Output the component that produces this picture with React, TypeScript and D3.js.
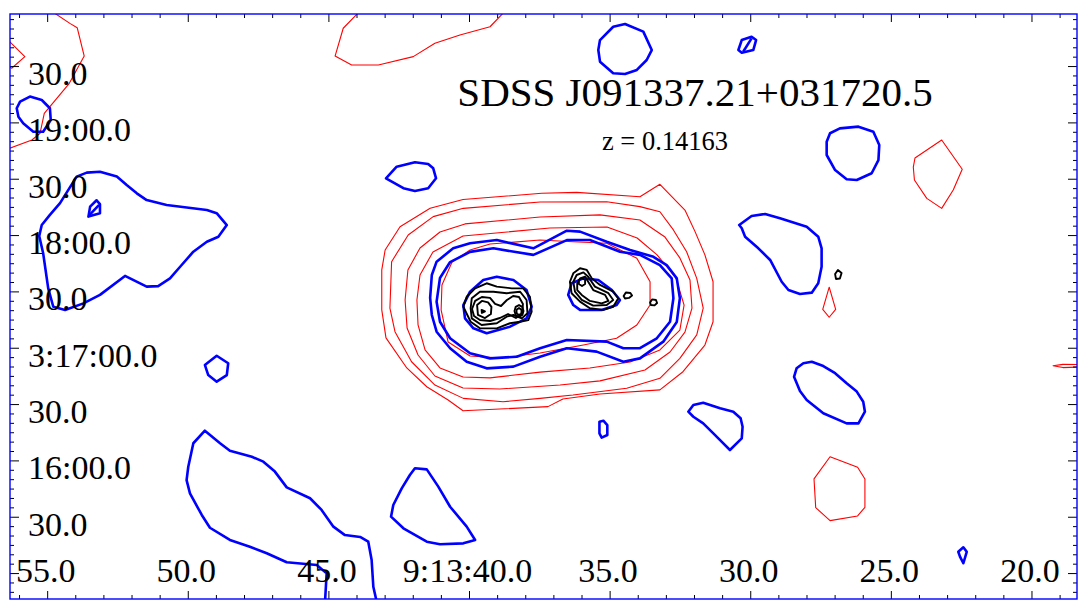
import React from 'react';
import * as d3 from 'd3';

type Pt = [number, number];

// Sky coordinates: RA in seconds of time after 9h13m, Dec in arcsec relative to +03:17:00
const RA_DOMAIN: [number, number] = [56.339, 18.399];
const DEC_DOMAIN: [number, number] = [177.99, -133.54];

const RA_MAJOR = [55, 50, 45, 40, 35, 30, 25, 20];
const RA_LABELS = ['55.0', '50.0', '45.0', '9:13:40.0', '35.0', '30.0', '25.0', '20.0'];
const RA_MINOR = d3.range(19, 57, 1);
const DEC_MAJOR = [150, 120, 90, 60, 30, 0, -30, -60, -90, -120];
const DEC_LABELS = ['30.0', '19:00.0', '30.0', '18:00.0', '30.0', '3:17:00.0', '30.0', '16:00.0', '30.0', ''];
const DEC_MINOR = d3.range(-130, 180, 5);

const TITLE = 'SDSS J091337.21+031720.5';
const SUBTITLE = 'z = 0.14163';

// ---- red contours (low resolution map) ----
const R_TOPLEFT: Pt[] = [[54.92,180.1],[54.21,173.0],[53.95,170.7],[53.70,155.6],[54.23,141.1],[55.12,125.1],[55.27,114.5],[55.56,110.9],[56.52,105.6]];
const R_EDGE: Pt[] = [[56.41,164.1],[55.81,155.3],[56.28,149.1],[56.41,150.3]];
const R_TOP: Pt[] = [[43.86,180.1],[44.49,170.4],[44.78,155.6],[44.19,150.8],[43.24,150.8],[42.00,155.3],[41.23,162.4],[40.34,166.8],[39.27,171.2],[38.70,180.1]];
const R_NE: Pt[] = [[23.21,110.9],[22.48,95.3],[22.80,84.3],[23.21,74.5],[23.74,79.8],[24.18,89.6],[24.22,96.5],[24.16,101.3]];
const R_A: Pt[] = [[43.12,41.7],[43.00,52.3],[42.47,64.7],[41.40,74.5],[40.23,79.2],[37.43,82.5],[36.19,83.0],[33.94,80.7],[33.23,87.3],[32.34,73.6],[31.98,62.1],[31.63,49.7],[31.34,35.4],[31.34,14.1],[31.63,1.7],[32.41,-12.5],[33.23,-22.2],[35.36,-24.4],[36.68,-27.0],[37.21,-31.1],[40.23,-33.3],[40.76,-27.6],[41.52,-20.5],[42.23,-10.5],[42.97,5.5],[43.12,20.4]];
const R_B: Pt[] = [[42.83,21.4],[42.77,46.1],[42.18,60.3],[41.29,70.1],[40.22,74.5],[37.49,77.9],[35.12,78.0],[33.94,75.4],[33.23,72.7],[32.75,63.0],[32.28,51.4],[31.92,37.2],[31.69,21.3],[31.92,7.1],[32.52,-5.4],[33.23,-16.0],[34.41,-21.3],[36.32,-24.9],[37.49,-26.7],[38.81,-28.5],[40.22,-26.7],[41.23,-19.6],[42.06,-7.2],[42.65,8.8]];
const R_C: Pt[] = [[42.29,25.7],[42.19,41.7],[41.76,53.4],[41.05,61.9],[40.16,66.2],[37.49,69.9],[35.36,71.0],[33.94,68.3],[33.05,59.2],[32.52,48.1],[32.16,36.3],[32.09,21.4],[32.34,8.6],[32.87,-2.0],[33.76,-11.6],[35.36,-17.4],[36.78,-19.6],[38.92,-21.7],[40.23,-21.2],[41.23,-14.8],[41.83,-3.6],[42.22,10.8]];
const R_D: Pt[] = [[41.87,25.7],[41.76,39.0],[41.30,51.3],[40.23,59.8],[37.14,64.0],[35.11,64.6],[34.04,58.7],[33.33,49.7],[32.66,37.4],[32.37,23.0],[32.52,9.7],[33.23,-0.9],[34.29,-7.3],[35.72,-10.5],[37.49,-12.7],[39.27,-15.8],[40.23,-15.3],[41.05,-10.5],[41.58,-0.9],[41.83,12.4]];
const R_E: Pt[] = [[41.01,20.4],[40.98,33.7],[40.62,45.9],[39.98,52.3],[39.27,55.5],[37.49,57.6],[36.32,56.7],[35.12,55.9],[34.05,47.9],[33.58,35.4],[33.58,23.0],[34.05,12.4],[34.77,5.3],[35.95,1.7],[37.49,-2.5],[38.92,-5.2],[39.98,-4.1],[40.76,3.3]];
const R_F: Pt[] = [[27.21,32.5],[26.98,20.7],[27.21,16.5],[27.44,20.7]];
const R_G: Pt[] = [[18.22,-8.7],[18.90,-8.6],[19.25,-9.3],[18.90,-10.3],[18.22,-10.0]];
const R_H: Pt[] = [[27.18,-57.8],[26.20,-63.4],[25.94,-69.6],[25.94,-84.7],[26.20,-89.3],[27.18,-91.8],[27.69,-84.9],[27.75,-69.6]];

// ---- blue contours (intermediate resolution map) ----
const B_1: Pt[] = [[41.40,26.8],[41.34,39.0],[41.17,46.1],[40.58,53.2],[39.98,55.9],[39.03,57.6],[37.73,53.2],[36.54,62.6],[36.07,62.1],[35.12,56.7],[34.29,52.3],[33.46,48.7],[32.99,44.3],[32.63,37.2],[32.52,26.6],[32.63,14.0],[33.11,3.5],[33.94,-5.4],[34.53,-7.2],[35.48,-1.8],[36.54,0.0],[37.49,-4.5],[38.44,-9.8],[39.39,-10.7],[40.10,-7.2],[40.69,0.0],[41.17,8.8],[41.34,17.7]];
const B_2: Pt[] = [[41.17,24.8],[41.05,37.4],[40.69,45.9],[39.98,51.3],[39.15,53.2],[37.73,49.7],[36.54,57.6],[35.72,57.6],[34.65,51.4],[33.94,49.7],[33.23,44.3],[32.81,37.2],[32.75,26.6],[32.87,14.1],[33.34,5.3],[33.94,0.0],[34.53,0.0],[35.12,3.5],[36.54,4.4],[37.49,0.0],[38.32,-4.5],[39.27,-5.4],[39.98,-2.7],[40.69,5.3],[41.05,14.1]];
const B_SRC1: Pt[] = [[40.22,23.0],[39.98,30.1],[39.51,36.3],[39.03,38.1],[38.44,36.3],[37.97,31.0],[37.79,22.1],[37.97,15.9],[38.56,11.5],[39.39,8.0],[39.86,10.6],[40.16,15.9]];
const B_SRC2: Pt[] = [[36.49,28.4],[36.37,34.6],[35.95,37.2],[35.42,36.3],[34.94,31.0],[34.65,25.7],[34.77,23.0],[35.30,20.4],[36.07,20.4],[36.31,23.0]];
const B_N: Pt[] = [[35.42,158.8],[35.36,164.1],[34.89,171.2],[34.47,172.7],[33.82,168.6],[33.52,158.8],[33.70,153.5],[34.05,148.2],[34.47,146.0],[34.89,146.4],[35.36,152.6]];
const B_DIAMOND: Pt[] = [[30.44,158.8],[30.32,164.1],[29.97,165.9],[29.81,164.1],[29.91,158.8],[30.32,157.4]];
const B_DIAMOND_IN: Pt[] = [[30.27,157.9],[29.97,165.0]];
const B_NE: Pt[] = [[27.30,110.0],[27.18,114.5],[26.83,117.1],[26.17,118.0],[25.64,115.3],[25.43,108.2],[25.46,100.2],[25.70,93.2],[26.23,89.6],[26.59,90.0],[27.00,94.9],[27.30,102.9]];
const B_NW: Pt[] = [[56.10,127.8],[55.98,131.3],[55.63,134.0],[55.21,132.2],[54.92,127.8],[54.89,121.5],[55.16,115.3],[55.51,115.3],[55.87,119.8],[56.04,123.3]];
const B_WEST: Pt[] = [[55.21,65.6],[54.92,71.0],[54.56,77.3],[53.97,91.4],[53.61,93.5],[53.14,94.0],[52.54,91.4],[52.19,86.9],[51.83,82.5],[51.48,78.9],[50.77,76.3],[49.34,73.6],[48.99,71.9],[48.63,65.6],[48.93,59.4],[49.34,56.7],[49.82,51.4],[50.29,43.4],[50.65,37.2],[51.07,33.1],[51.48,32.8],[52.25,38.5],[53.14,28.4],[53.73,23.9],[54.38,20.4],[54.80,22.1],[54.98,31.9],[55.16,50.6],[55.30,59.8]];
const B_WEST_SMALL: Pt[] = [[53.55,70.1],[53.49,75.4],[53.26,78.8],[53.14,76.8],[53.14,71.9]];
const B_WEST_SMALL_IN: Pt[] = [[53.51,71.0],[53.17,76.3]];
const B_G: Pt[] = [[42.97,90.5],[42.59,96.7],[41.94,99.0],[41.47,98.1],[41.29,95.8],[41.19,90.5],[41.47,85.2],[41.94,83.7],[42.35,85.2]];
const B_H: Pt[] = [[49.41,-8.9],[48.99,-4.0],[48.58,-8.0],[48.63,-14.3],[48.99,-17.8],[49.29,-14.3]];
const B_I: Pt[] = [[30.41,65.6],[29.97,70.4],[29.49,71.5],[28.96,69.2],[28.01,64.7],[27.60,59.4],[27.48,53.2],[27.48,43.4],[27.60,34.6],[27.83,29.6],[28.25,28.9],[28.66,31.0],[28.90,35.4],[29.31,47.0],[29.73,53.2],[30.20,59.4],[30.32,63.9]];
const B_J: Pt[] = [[28.37,-10.7],[28.13,-8.0],[27.83,-7.2],[27.42,-9.5],[27.00,-13.3],[26.59,-18.7],[26.23,-23.1],[26.00,-28.5],[25.94,-33.8],[26.17,-40.0],[26.59,-40.0],[27.42,-34.6],[28.01,-27.6],[28.25,-22.8],[28.46,-15.2]];
const B_K: Pt[] = [[32.22,-33.8],[32.04,-30.2],[31.69,-29.0],[31.09,-32.0],[30.62,-33.8],[30.36,-37.3],[30.29,-41.8],[30.32,-48.0],[30.74,-54.2],[31.09,-48.9],[31.33,-45.3],[31.69,-40.0],[32.04,-36.5]];
const B_L: Pt[] = [[35.38,-39.1],[35.24,-38.6],[35.10,-40.9],[35.10,-46.2],[35.30,-47.6],[35.38,-45.3]];
const B_M: Pt[] = [[41.94,-63.9],[41.52,-64.5],[41.11,-73.7],[40.69,-84.4],[40.10,-95.0],[39.80,-102.1],[40.22,-103.9],[41.05,-104.4],[41.52,-103.0],[42.35,-95.9],[42.79,-89.7],[42.71,-83.5],[42.41,-74.6],[42.12,-67.5]];
const B_SW: Pt[] = [[45.14,-135.7],[45.08,-119.9],[45.43,-115.4],[46.50,-114.0],[47.21,-109.2],[47.81,-105.7],[48.52,-102.1],[49.23,-95.6],[49.52,-88.8],[49.94,-77.3],[50.06,-70.2],[50.00,-63.1],[49.82,-50.6],[49.41,-43.9],[48.87,-50.6],[48.52,-54.6],[47.74,-57.8],[47.33,-60.4],[46.92,-65.7],[46.50,-74.1],[45.67,-79.9],[45.26,-86.1],[44.84,-95.0],[44.43,-99.5],[43.89,-100.5],[43.60,-103.0],[43.48,-112.8],[43.42,-127.0],[43.29,-135.7]];
const B_O: Pt[] = [[22.62,-108.4],[22.44,-106.0],[22.32,-108.4],[22.44,-114.5],[22.56,-111.0]];

// ---- black contours (high resolution map) ----
const K_L1: Pt[] = [[40.22,22.1],[40.10,27.4],[39.80,31.9],[39.39,34.6],[39.03,32.8],[38.50,31.9],[38.09,31.9],[37.85,27.4],[37.79,19.5],[37.91,15.0],[38.20,14.1],[38.56,13.3],[39.03,10.6],[39.63,10.6],[39.96,14.1]];
const K_L2: Pt[] = [[39.96,21.3],[39.92,26.6],[39.63,30.1],[39.15,30.1],[38.68,29.3],[38.20,30.1],[37.97,25.7],[37.94,18.6],[38.14,15.9],[38.44,17.7],[38.68,16.8],[39.03,13.3],[39.57,12.4],[39.92,15.9]];
const K_L3: Pt[] = [[39.91,20.9],[39.80,25.2],[39.56,27.3],[39.27,26.8],[39.09,23.6],[38.88,22.5],[38.67,25.7],[38.45,27.8],[38.24,27.3],[38.10,23.6],[38.13,18.2],[38.35,16.1],[38.63,18.2],[38.92,16.1],[39.27,14.5],[39.63,15.0],[39.84,17.2]];
const K_L4: Pt[] = [[39.73,23.0],[39.56,25.2],[39.34,24.4],[39.22,22.0],[39.24,18.2],[39.45,16.1],[39.70,17.7]];
const K_L5: Pt[] = [[39.57,20.4],[39.45,19.6],[39.56,18.8]];
const K_S1: Pt[] = [[38.24,23.0],[38.12,22.0],[38.08,19.8],[38.12,17.7],[38.24,16.6],[38.36,17.7],[38.40,19.8],[38.36,22.0]];
const K_S2: Pt[] = [[38.24,21.4],[38.16,20.6],[38.15,19.6],[38.16,18.5],[38.24,17.7],[38.32,18.5],[38.33,19.6],[38.32,20.6]];
const K_R1: Pt[] = [[36.43,35.4],[36.31,39.9],[36.07,42.6],[35.83,41.7],[35.65,37.2],[35.36,33.7],[34.89,30.1],[34.71,26.6],[34.89,22.1],[35.24,20.4],[35.72,21.3],[36.07,24.8],[36.37,29.3]];
const K_R2: Pt[] = [[36.31,35.4],[36.19,39.0],[35.95,40.4],[35.78,38.1],[35.54,32.8],[35.06,29.3],[34.89,25.7],[35.12,23.0],[35.60,22.7],[36.01,25.7],[36.25,30.1]];
const K_R3: Pt[] = [[36.17,34.6],[36.07,37.2],[35.89,38.1],[35.78,35.4],[35.60,31.0],[35.18,28.4],[35.06,25.2],[35.30,23.9],[35.72,25.2],[36.01,28.4],[36.17,31.0]];
const K_R4: Pt[] = [[36.00,37.4],[35.89,36.3],[35.89,34.2],[36.00,33.1],[36.11,34.2],[36.11,36.3]];
const K_D1: Pt[] = [[34.52,27.8],[34.44,29.7],[34.28,29.4],[34.22,28.1],[34.33,26.8],[34.47,26.5]];
const K_D2: Pt[] = [[33.58,24.4],[33.51,26.0],[33.37,25.7],[33.33,24.1],[33.42,22.8],[33.55,23.0]];
const K_D3: Pt[] = [[26.90,41.7],[26.77,40.1],[26.83,37.1],[26.97,36.9],[27.00,39.5]];

type Contour = { pts: Pt[]; closed: boolean };
const RED: Contour[] = [
  { pts: R_TOPLEFT, closed: false }, { pts: R_EDGE, closed: true }, { pts: R_TOP, closed: false },
  { pts: R_NE, closed: true }, { pts: R_A, closed: true }, { pts: R_B, closed: true },
  { pts: R_C, closed: true }, { pts: R_D, closed: true }, { pts: R_E, closed: true },
  { pts: R_F, closed: true }, { pts: R_G, closed: true }, { pts: R_H, closed: true },
];
const BLUE: Contour[] = [
  { pts: B_1, closed: true }, { pts: B_2, closed: true }, { pts: B_SRC1, closed: true }, { pts: B_SRC2, closed: true },
  { pts: B_N, closed: true }, { pts: B_DIAMOND, closed: true }, { pts: B_DIAMOND_IN, closed: false },
  { pts: B_NE, closed: true }, { pts: B_NW, closed: true }, { pts: B_WEST, closed: true },
  { pts: B_WEST_SMALL, closed: true }, { pts: B_WEST_SMALL_IN, closed: false }, { pts: B_G, closed: true },
  { pts: B_H, closed: true }, { pts: B_I, closed: true }, { pts: B_J, closed: true }, { pts: B_K, closed: true },
  { pts: B_L, closed: true }, { pts: B_M, closed: true }, { pts: B_SW, closed: false }, { pts: B_O, closed: true },
];
const BLACK: Contour[] = [
  { pts: K_L1, closed: true }, { pts: K_L2, closed: true }, { pts: K_L3, closed: true }, { pts: K_L4, closed: true },
  { pts: K_L5, closed: true }, { pts: K_S1, closed: true }, { pts: K_S2, closed: true },
  { pts: K_R1, closed: true }, { pts: K_R2, closed: true }, { pts: K_R3, closed: true }, { pts: K_R4, closed: true },
  { pts: K_D1, closed: true }, { pts: K_D2, closed: true }, { pts: K_D3, closed: true },
];

const W = 1086;
const H = 616;
const PL = 10, PR = 1077, PT = 14, PB = 599;
const FONT = '"Liberation Serif", "Times New Roman", Times, serif';

export default function App() {
  const x = d3.scaleLinear().domain(RA_DOMAIN).range([PL, PR]);
  const y = d3.scaleLinear().domain(DEC_DOMAIN).range([PT, PB]);
  const line = d3.line<Pt>().x(d => x(d[0])).y(d => y(d[1]));
  const dPath = (c: Contour) => (line(c.pts) || '') + (c.closed ? 'Z' : '');
  const inX = (v: number) => x(v) >= PL && x(v) <= PR;
  const inY = (v: number) => y(v) >= PT && y(v) <= PB;

  return (
    <svg width={W} height={H} style={{ position: 'absolute', left: 0, top: 0, background: '#fff' }}>
      <defs>
        <clipPath id="plotclip">
          <rect x={PL} y={PT} width={PR - PL} height={PB - PT} />
        </clipPath>
      </defs>
      <rect x={0} y={0} width={W} height={H} fill="#fff" />
      <g clipPath="url(#plotclip)" fill="none" strokeLinejoin="round">
        {RED.map((c, i) => (
          <path key={'r' + i} d={dPath(c)} stroke="#ff0000" strokeWidth={1.1} />
        ))}
        {BLUE.map((c, i) => (
          <path key={'b' + i} d={dPath(c)} stroke="#0000ff" strokeWidth={2.6} />
        ))}
        {BLACK.map((c, i) => (
          <path key={'k' + i} d={dPath(c)} stroke="#000" strokeWidth={1.9} />
        ))}
      </g>
      {/* ticks */}
      <g stroke="#000" strokeWidth={1}>
        {RA_MINOR.filter(inX).map(v => {
          const len = v % 5 === 0 ? 8 : 4;
          return (
            <g key={'xt' + v}>
              <line x1={x(v)} x2={x(v)} y1={PT} y2={PT + len} />
              <line x1={x(v)} x2={x(v)} y1={PB} y2={PB - len} />
            </g>
          );
        })}
        {DEC_MINOR.filter(inY).map(v => {
          const len = v % 30 === 0 ? 9 : 4;
          return (
            <g key={'yt' + v}>
              <line x1={PL} x2={PL + len} y1={y(v)} y2={y(v)} />
              <line x1={PR} x2={PR - len} y1={y(v)} y2={y(v)} />
            </g>
          );
        })}
      </g>
      <rect x={PL} y={PT} width={PR - PL} height={PB - PT} fill="none" stroke="#0000ff" strokeWidth={1.4} />
      {/* tick labels */}
      <g fontFamily={FONT} fontSize={34} fill="#000">
        {RA_MAJOR.map((v, i) => (
          <text key={'xl' + v} x={x(v) - 2} y={582} textAnchor="middle">{RA_LABELS[i]}</text>
        ))}
        {DEC_MAJOR.map((v, i) => (
          DEC_LABELS[i] ? <text key={'yl' + v} x={28} y={y(v) + 18.5}>{DEC_LABELS[i]}</text> : null
        ))}
      </g>
      <text x={695} y={106} textAnchor="middle" fontFamily={FONT} fontSize={41} fill="#000">{TITLE}</text>
      <text x={665} y={150} textAnchor="middle" fontFamily={FONT} fontSize={26.5} fill="#000">{SUBTITLE}</text>
    </svg>
  );
}
